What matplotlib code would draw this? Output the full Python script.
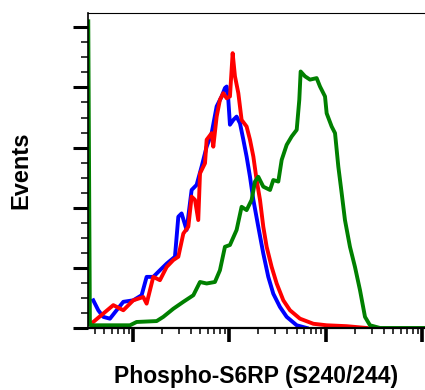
import numpy as np
import matplotlib
matplotlib.use("Agg")
import matplotlib.pyplot as plt
from matplotlib.ticker import MultipleLocator, LogLocator, NullFormatter

plt.rcParams["font.family"] = ["Liberation Sans", "DejaVu Sans"]

# fluorescence intensity in log10 units, counts
blue_log = [0.588, 0.640, 0.692, 0.761, 0.830, 0.900, 1.003, 1.090, 1.142, 1.211,
            1.280, 1.350, 1.436, 1.471, 1.505, 1.557, 1.609, 1.661, 1.713, 1.765,
            1.817, 1.869, 1.921, 1.955, 1.973, 1.990, 2.007, 2.042, 2.076, 2.111,
            2.146, 2.180, 2.215, 2.250, 2.301, 2.353, 2.405, 2.457, 2.526, 2.596,
            2.700, 2.803]
blue_cnt = [9.2, 5.9, 3.7, 3.1, 5.9, 8.7, 9.2, 10.9, 17.0, 17.0,
            19.2, 21.4, 23.7, 37.0, 38.1, 32.6, 45.9, 47.6, 53.7, 60.3,
            64.8, 73.7, 77.0, 79.8, 80.3, 75.9, 67.6, 69.2, 70.3, 68.1,
            62.6, 57.0, 50.3, 42.6, 33.7, 24.8, 17.0, 11.4, 7.0, 3.7,
            0.9, 0.0]

red_log = [0.588, 0.692, 0.796, 0.900, 1.003, 1.107, 1.142, 1.211, 1.280, 1.350,
           1.419, 1.471, 1.523, 1.575, 1.609, 1.644, 1.678, 1.696, 1.748, 1.765,
           1.817, 1.834, 1.869, 1.903, 1.938, 1.973, 2.007, 2.035, 2.059, 2.094,
           2.128, 2.180, 2.215, 2.250, 2.284, 2.319, 2.353, 2.388, 2.440, 2.492,
           2.561, 2.630, 2.734, 2.873, 3.011, 3.219, 3.426]
red_cnt = [2.0, 4.8, 7.6, 5.9, 9.2, 10.3, 8.1, 17.0, 15.9, 20.3,
           22.6, 23.7, 31.4, 33.7, 43.7, 42.6, 35.9, 51.4, 54.8, 62.6,
           64.8, 60.3, 70.3, 75.9, 78.1, 76.4, 77.0, 91.4, 83.7, 78.1,
           69.2, 67.0, 62.6, 57.0, 49.2, 42.6, 33.7, 27.0, 20.3, 14.8,
           9.2, 5.9, 3.1, 1.4, 0.9, 0.6, 0.0]

green_log = [0.536, 0.553, 0.588, 0.969, 1.038, 1.246, 1.315, 1.419, 1.523, 1.627,
             1.696, 1.765, 1.851, 1.903, 1.955, 2.007, 2.076, 2.128, 2.180, 2.232,
             2.267, 2.301, 2.353, 2.423, 2.457, 2.509, 2.544, 2.596, 2.648, 2.700,
             2.727, 2.741, 2.786, 2.838, 2.907, 2.942, 2.994, 3.011, 3.063, 3.098,
             3.132, 3.167, 3.201, 3.253, 3.305, 3.357, 3.409, 3.461, 3.565, 4.015]
green_cnt = [102.0, 1.0, 0.9, 0.9, 2.0, 2.3, 3.7, 6.4, 8.7, 10.9,
             15.3, 14.8, 15.3, 19.2, 27.0, 27.6, 32.6, 40.3, 39.2, 42.6,
             48.7, 50.3, 47.0, 45.9, 49.2, 48.7, 55.9, 60.9, 63.7, 65.9,
             75.9, 85.3, 83.7, 82.6, 83.1, 80.3, 77.0, 71.4, 67.0, 64.8,
             53.7, 44.8, 35.9, 27.0, 20.3, 12.6, 3.7, 0.9, 0.0, 0.0]

fig = plt.figure(figsize=(4.25, 3.9), dpi=100)
ax = fig.add_axes([0.207, 0.159, 0.793, 0.808])

ax.plot(10 ** np.array(blue_log), blue_cnt, color="#0000ff", lw=2.8)
ax.plot(10 ** np.array(red_log), red_cnt, color="#ff0000", lw=2.8)
ax.plot(10 ** np.array(green_log), green_cnt, color="#008000", lw=2.8)

ax.set_xscale("log")
ax.set_xlim(10 ** 0.533, 10 ** 4.032)
ax.set_ylim(0, 104.8)

ax.yaxis.set_major_locator(MultipleLocator(20))
ax.yaxis.set_minor_locator(MultipleLocator(5))
ax.xaxis.set_major_locator(LogLocator(base=10))
ax.xaxis.set_minor_locator(LogLocator(base=10, subs=np.arange(2, 10)))
ax.xaxis.set_minor_formatter(NullFormatter())
ax.tick_params(which="both", labelbottom=False, labelleft=False, direction="out", color="black")
ax.tick_params(axis="y", which="major", length=10.5, width=2.2)
ax.tick_params(axis="y", which="minor", length=5, width=1.1)
ax.tick_params(axis="x", which="major", length=10, width=2.6)
ax.tick_params(axis="x", which="minor", length=4.5, width=1.1)

ax.spines["right"].set_visible(False)
ax.spines["top"].set_linewidth(0.8)
ax.spines["left"].set_linewidth(1.2)
ax.spines["bottom"].set_linewidth(1.6)

ax.set_xlabel("Phospho-S6RP (S240/244)", fontsize=16.5, fontweight="bold", va="center")
ax.xaxis.set_label_coords(0.5, -0.155)
ax.set_ylabel("Events", fontsize=17, fontweight="bold", va="center")
ax.yaxis.set_label_coords(-0.2, 0.5)

fig.savefig("out.png", dpi=100)
